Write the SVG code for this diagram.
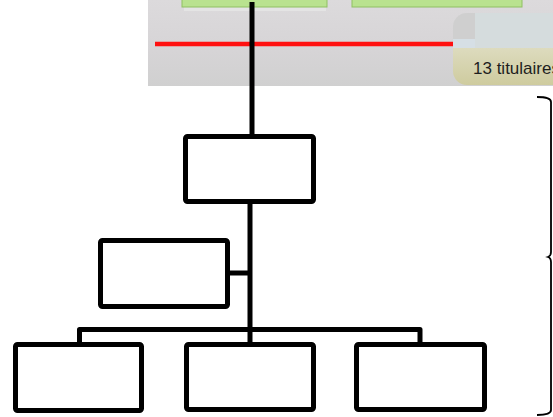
<svg xmlns="http://www.w3.org/2000/svg" width="553" height="417" viewBox="0 0 553 417">
  <defs>
    <style>
      .box { fill: #ffffff; stroke: #000000; stroke-width: 5; stroke-linejoin: round; }
      .conn { fill: none; stroke: #000000; stroke-width: 5; stroke-linejoin: round; }
      .green { fill: #b9e28f; stroke: #8fc062; stroke-width: 1; }
      .brace { fill: none; stroke: #000000; stroke-width: 1.8; }
    </style>
    <linearGradient id="bg" x1="0" y1="0" x2="0" y2="1">
      <stop offset="0" stop-color="#dcdadc"/>
      <stop offset="0.6" stop-color="#d6d4d6"/>
      <stop offset="1" stop-color="#d0d0d0"/>
    </linearGradient>
    <linearGradient id="olive" x1="0" y1="0" x2="0" y2="1">
      <stop offset="0" stop-color="#dddbbe"/>
      <stop offset="1" stop-color="#cdca9c"/>
    </linearGradient>
    <clipPath id="rb">
      <rect x="453" y="13" width="120" height="72" rx="14" ry="14"/>
    </clipPath>
  </defs>

  <!-- screenshot backdrop -->
  <g id="screenshot">
    <rect x="148" y="0" width="405" height="86" fill="url(#bg)"/>
    <rect x="184" y="7" width="142" height="4" fill="#e4e4e4"/>
    <rect x="182" y="-5" width="145" height="12" class="green"/>
    <rect x="352" y="-5" width="170" height="12" class="green"/>
    <line x1="155" y1="44" x2="453" y2="44" stroke="#ff1010" stroke-width="4.5"/>
    <g clip-path="url(#rb)">
      <rect x="453" y="13" width="120" height="36" fill="#cfcfcf"/>
      <rect x="475" y="13" width="100" height="36" fill="#d5dcdd"/>
      <rect x="453" y="39" width="22" height="9" fill="#d6dfe5"/>
      <rect x="453" y="48" width="120" height="40" fill="url(#olive)"/>
    </g>
    <text x="473" y="74" font-family="Liberation Sans, Arial, sans-serif" font-size="17" fill="#1e1e1e">13 titulaires</text>
  </g>

  <g id="connectors">
    <line class="conn" x1="252" y1="2" x2="252" y2="136"/>
    <line class="conn" x1="250" y1="204" x2="250" y2="342"/>
    <line class="conn" x1="230" y1="273" x2="250" y2="273"/>
    <path class="conn" d="M79.5,343 V329.5 H420 V343"/>
  </g>

  <g id="node-top"><rect class="box" x="185.5" y="136.5" width="128" height="65" rx="2"/></g>
  <g id="node-assistant"><rect class="box" x="100.5" y="240.5" width="127" height="66" rx="2"/></g>
  <g id="node-left"><rect class="box" x="15.5" y="344.5" width="126" height="66" rx="2"/></g>
  <g id="node-middle"><rect class="box" x="186.5" y="344.5" width="127" height="65" rx="2"/></g>
  <g id="node-right"><rect class="box" x="356.5" y="344.5" width="128" height="65" rx="2"/></g>

  <g id="brace">
    <path class="brace" d="M537,97 Q551,97 551,102 L551,252 Q551,256 548,257 Q551,258 551,262 L551,410 Q551,415 537,415"/>
  </g>
</svg>
